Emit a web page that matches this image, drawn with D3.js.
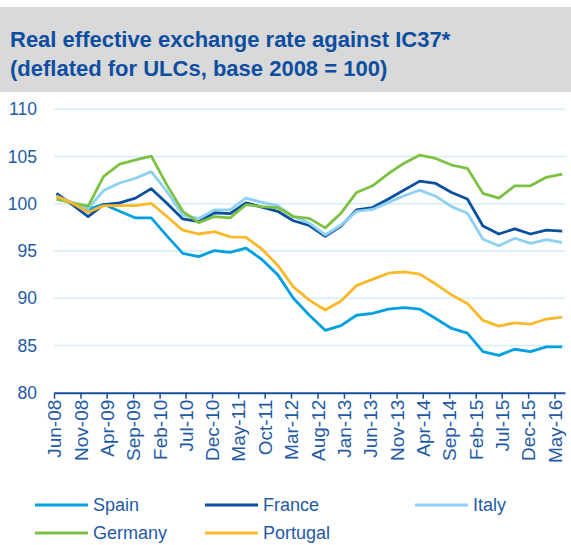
<!DOCTYPE html>
<html>
<head>
<meta charset="utf-8">
<script src="https://cdn.jsdelivr.net/npm/d3@7/dist/d3.min.js"></script>
<style>
  html, body { margin: 0; padding: 0; background: #fff; }
  svg { display: block; font-family: "Liberation Sans", Arial, sans-serif; }
</style>
</head>
<body>
<svg id="chart" width="571" height="545"></svg>
<script>
// ---- Data (quarterly, Jun-08 ... Jun-16) ----
const startYear = 2008, startMonth = 5; // June 2008
const nPoints = 33;
const dates = d3.range(nPoints).map(k => new Date(startYear, startMonth + 3 * k, 15));

const spain = [100.8, 100.1, 99.4, 99.95, 99.2, 98.5, 98.5, 96.6, 94.75, 94.4, 95.05, 94.85, 95.3, 94.1, 92.5, 90.0,
  88.2, 86.6, 87.1, 88.2, 88.4, 88.85, 89.0, 88.85, 87.85, 86.8, 86.3, 84.35, 83.95, 84.6, 84.35, 84.85, 84.85];
const france = [101.1, 99.9, 98.65, 99.9, 100.1, 100.6, 101.6, 100.05, 98.4, 98.1, 99.05, 98.95, 100.1, 99.65, 99.2, 98.2,
  97.7, 96.55, 97.65, 99.35, 99.6, 100.5, 101.45, 102.4, 102.15, 101.2, 100.5, 97.65, 96.8, 97.35, 96.8, 97.2, 97.1];
const italy = [100.8, 100.1, 99.5, 101.4, 102.2, 102.7, 103.4, 101.3, 98.8, 98.45, 99.35, 99.35, 100.6, 100.15, 99.8, 98.65,
  97.95, 96.7, 97.75, 99.2, 99.4, 100.15, 100.85, 101.45, 100.8, 99.7, 99.0, 96.25, 95.55, 96.35, 95.8, 96.2, 95.9];
const germany = [100.5, 100.1, 99.75, 102.9, 104.2, 104.65, 105.05, 102.0, 99.2, 98.0, 98.65, 98.5, 99.9, 99.7, 99.6, 98.65,
  98.45, 97.45, 99.0, 101.2, 101.9, 103.2, 104.3, 105.15, 104.8, 104.1, 103.75, 101.1, 100.6, 101.9, 101.9, 102.8, 103.15];
const portugal = [100.8, 100.05, 99.1, 99.8, 99.8, 99.8, 100.05, 98.65, 97.2, 96.8, 97.05, 96.5, 96.45, 95.2, 93.5, 91.2,
  89.8, 88.75, 89.7, 91.35, 92.0, 92.65, 92.8, 92.55, 91.5, 90.35, 89.45, 87.65, 87.05, 87.4, 87.25, 87.8, 88.0];

const seriesNames = ["Spain", "France", "Italy", "Germany", "Portugal"];
const seriesValues = [spain, france, italy, germany, portugal];
const seriesColors = ["#009fe3", "#0b4f9f", "#8ed1f3", "#7cc142", "#fbb829"];

const yTicks = [80, 85, 90, 95, 100, 105, 110];
const xTickDates = d3.range(20).map(i => new Date(2008, 5 + 5 * i, 1));

const titleLines = ["Real effective exchange rate against IC37*", "(deflated for ULCs, base 2008 = 100)"];

// ---- Layout ----
const svg = d3.select("#chart");
const textColor = "#1f5aa6";
const plotLeft = 54, plotRight = 565, plotTop = 109.3, plotBottom = 392.7;

const x = d3.scaleTime()
  .domain([new Date(2008, 5, 1), new Date(2016, 6, 1)])
  .range([plotLeft, plotRight]);
const y = d3.scaleLinear().domain([80, 110]).range([plotBottom, plotTop]);

// Title band
svg.append("rect").attr("x", 0).attr("y", 7).attr("width", 571).attr("height", 85).attr("fill", "#d9d9d9");
svg.append("g").selectAll("text").data(titleLines).join("text")
  .attr("x", 10).attr("y", (d, i) => 47 + i * 29)
  .attr("fill", "#0d4ea1").attr("font-weight", "bold").attr("font-size", 22)
  .text(d => d);

// Gridlines
svg.append("g").selectAll("line").data(yTicks.filter(v => v > 80)).join("line")
  .attr("x1", plotLeft).attr("x2", plotRight)
  .attr("y1", d => y(d)).attr("y2", d => y(d))
  .attr("stroke", "#d3edf9").attr("stroke-width", 1.5);

// Y axis labels
const yAxis = d3.axisLeft(y).tickValues(yTicks).tickSize(0).tickPadding(17);
const yg = svg.append("g").attr("transform", `translate(${plotLeft},0)`).call(yAxis);
yg.select(".domain").remove();
yg.selectAll("text").attr("fill", textColor).attr("font-size", 17.5)
  .attr("font-family", "Liberation Sans, Arial, sans-serif");

// Lines
const line = d3.line().x((d, i) => x(dates[i])).y(d => y(d));
svg.append("g").selectAll("path").data(seriesValues).join("path")
  .attr("d", d => line(d))
  .attr("fill", "none")
  .attr("stroke", (d, i) => seriesColors[i])
  .attr("stroke-width", 2.8)
  .attr("stroke-linejoin", "round");

// X axis
const fmt = d3.timeFormat("%b-%y");
const xAxis = d3.axisBottom(x).tickValues(xTickDates).tickFormat(fmt).tickSize(6).tickSizeOuter(0);
const xg = svg.append("g").attr("transform", `translate(0,${plotBottom})`).call(xAxis);
xg.select(".domain").attr("stroke", "#1a4fa0").attr("stroke-width", 2);
xg.selectAll(".tick line").attr("stroke", "#1a4fa0").attr("stroke-width", 1.5);
xg.selectAll("text")
  .attr("fill", textColor).attr("font-size", 19)
  .attr("font-family", "Liberation Sans, Arial, sans-serif")
  .attr("transform", "rotate(-90)")
  .attr("text-anchor", "end")
  .attr("x", -7).attr("y", 0).attr("dy", "0.35em");

// Legend
const legendPos = [[35, 505], [205, 505], [415, 505], [35, 533], [205, 533]];
const lg = svg.append("g").selectAll("g").data(seriesNames).join("g")
  .attr("transform", (d, i) => `translate(${legendPos[i][0]},${legendPos[i][1]})`);
lg.append("line").attr("x1", 0).attr("x2", 53).attr("y1", 0).attr("y2", 0)
  .attr("stroke", (d, i) => seriesColors[i]).attr("stroke-width", 3);
lg.append("text").attr("x", 58).attr("y", 0).attr("dy", "0.35em")
  .attr("fill", textColor).attr("font-size", 18).text(d => d);
</script>
</body>
</html>
